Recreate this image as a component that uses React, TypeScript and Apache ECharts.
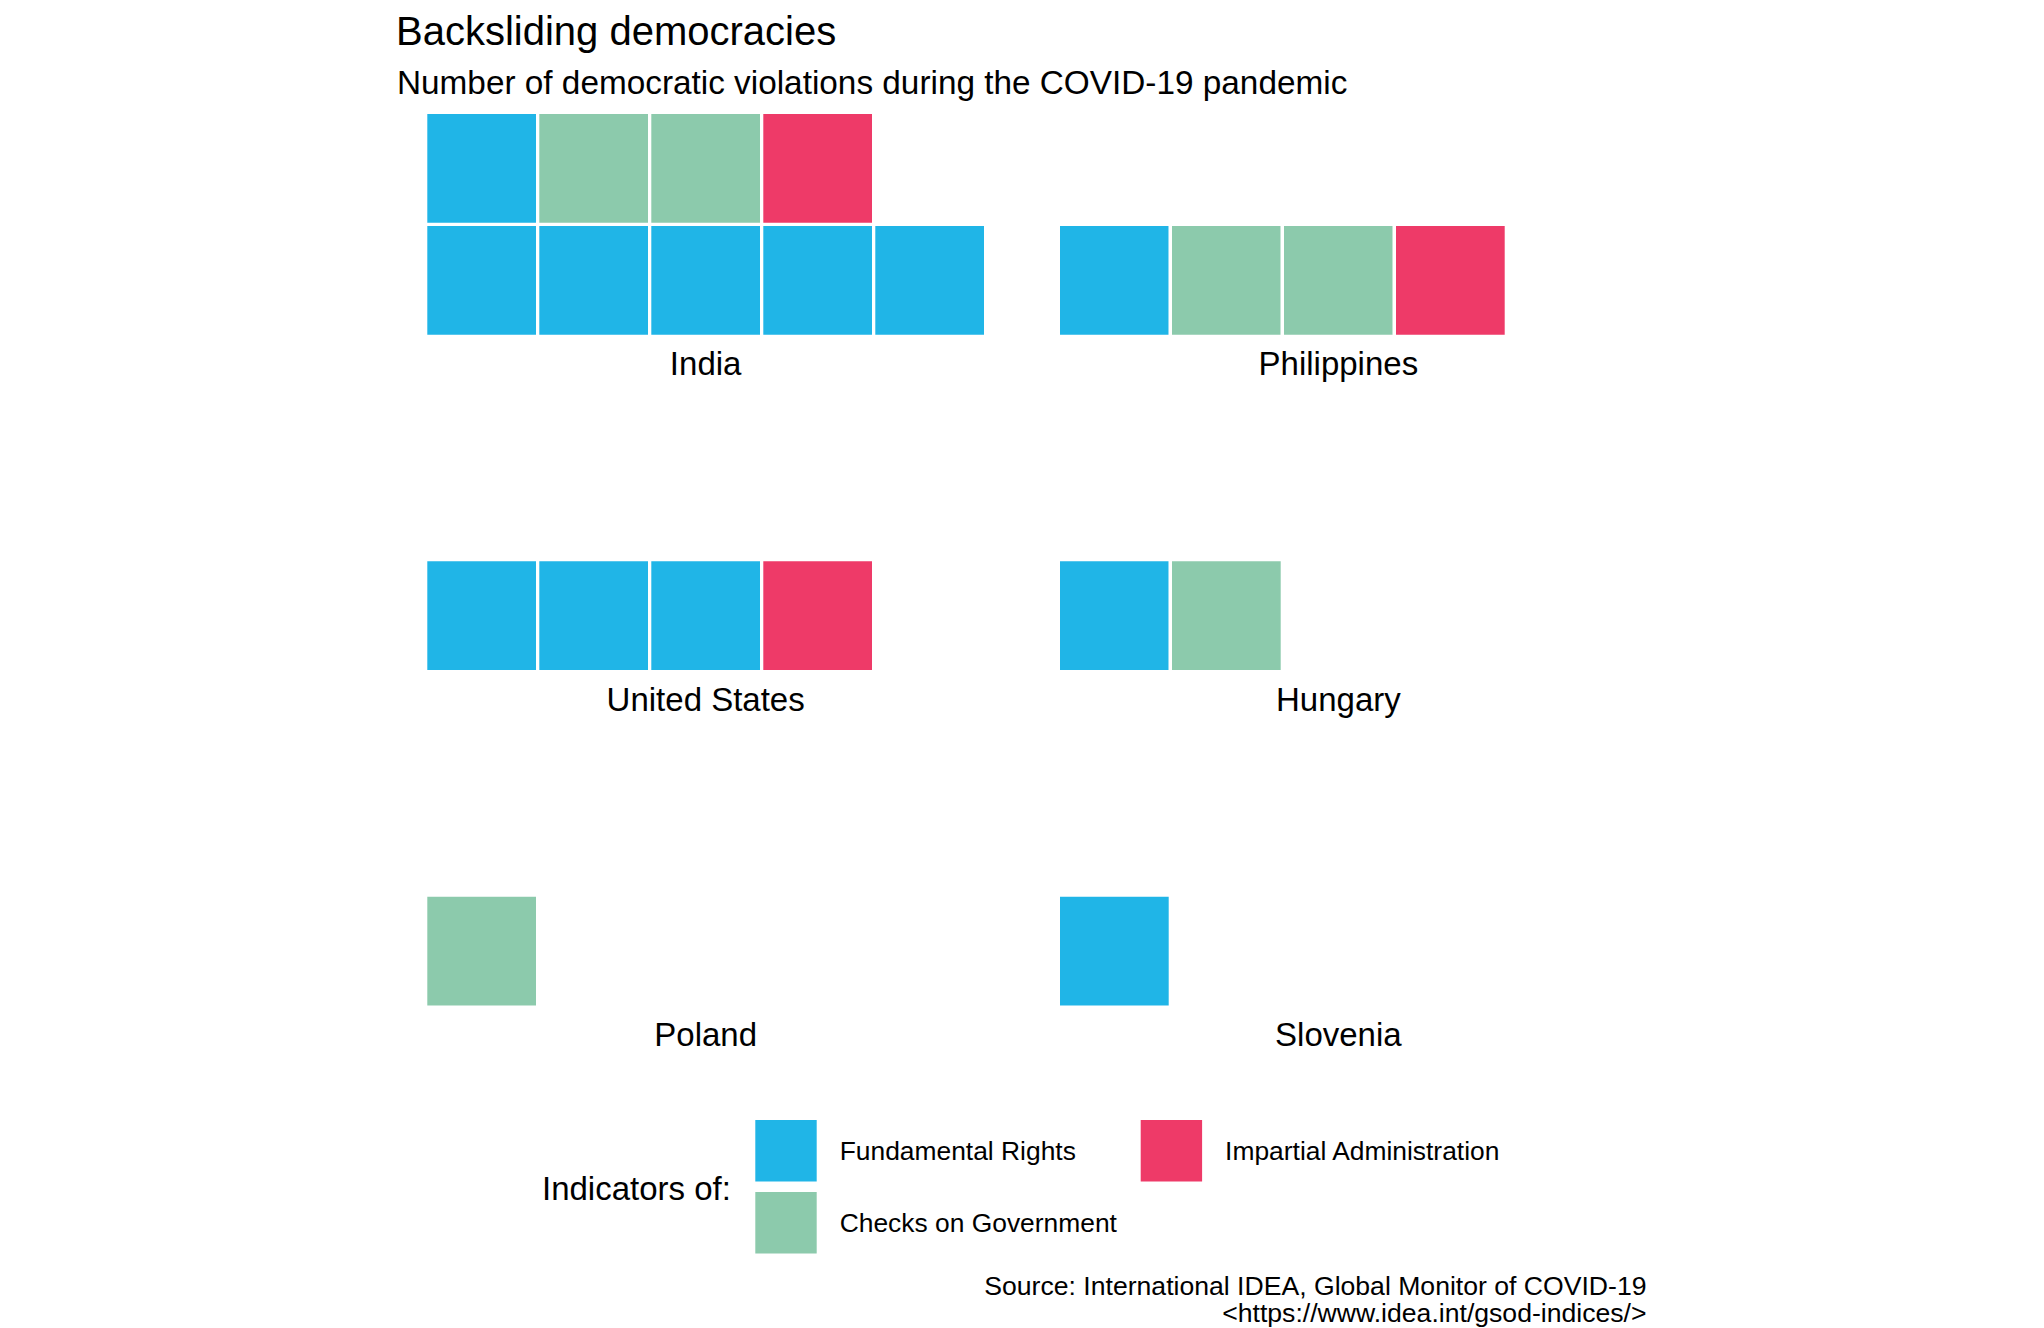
import React, { useEffect, useRef } from "react";
import * as echarts from "echarts";

const countries = ["India", "Philippines", "United States", "Hungary", "Poland", "Slovenia"];
const categories = ["Fundamental Rights", "Checks on Government", "Impartial Administration"];
const fundamentalRights = [6, 1, 3, 1, 0, 1];
const checksOnGovernment = [2, 2, 0, 1, 1, 0];
const impartialAdministration = [1, 1, 1, 0, 0, 0];
const colors = ["#20B5E7", "#8CCAAC", "#EE3A68"];
const titleText = "Backsliding democracies";
const subtitleText = "Number of democratic violations during the COVID-19 pandemic";
const legendTitle = "Indicators of:";
const captionLines = [
  "Source: International IDEA, Global Monitor of COVID-19",
  "<https://www.idea.int/gsod-indices/>",
];

const COLS = 5;
const ROWS = 2;
const FONT = "'Liberation Sans', Arial, Helvetica, sans-serif";

export default function App() {
  const ref = useRef<HTMLDivElement>(null);
  useEffect(() => {
    if (!ref.current) return;
    const chart = echarts.init(ref.current, null, { renderer: "svg" });

    const counts = [fundamentalRights, checksOnGovernment, impartialAdministration];
    const panelLeft = [425.65, 1058.35];
    const panelTop = [112.3, 447.7, 783.1];
    const cellSize = 112;

    const grids: any[] = [];
    const xAxes: any[] = [];
    const yAxes: any[] = [];
    const series: any[] = [];
    const graphics: any[] = [];

    countries.forEach((country, g) => {
      const col = g % 2;
      const row = Math.floor(g / 2);
      grids.push({
        left: panelLeft[col],
        top: panelTop[row],
        width: cellSize * COLS,
        height: cellSize * ROWS,
        containLabel: false,
      });
      xAxes.push({ type: "value", gridIndex: g, min: 0, max: COLS, show: false });
      yAxes.push({ type: "value", gridIndex: g, min: 0, max: ROWS, show: false });

      // build waffle cells in category order
      const cellsByCat: number[][][] = [[], [], []];
      let k = 0;
      categories.forEach((_, ci) => {
        for (let n = 0; n < counts[ci][g]; n++) {
          cellsByCat[ci].push([k % COLS, Math.floor(k / COLS)]);
          k++;
        }
      });
      categories.forEach((cat, ci) => {
        series.push({
          type: "custom",
          name: cat,
          xAxisIndex: g,
          yAxisIndex: g,
          itemStyle: { color: colors[ci] },
          data: cellsByCat[ci],
          renderItem: (params: any, api: any) => {
            const c = api.value(0);
            const r = api.value(1);
            const p0 = api.coord([c, r]);
            const p1 = api.coord([c + 1, r + 1]);
            return {
              type: "rect",
              shape: { x: p0[0], y: p1[1], width: p1[0] - p0[0], height: p0[1] - p1[1] },
              style: { fill: api.visual("color"), stroke: "#ffffff", lineWidth: 3.3 },
            };
          },
        });
      });

      graphics.push({
        type: "text",
        x: panelLeft[col] + (cellSize * COLS) / 2,
        y: panelTop[row] + cellSize * ROWS + 27.3,
        style: {
          text: country,
          fontSize: 33,
          fontFamily: FONT,
          fill: "#000",
          align: "center",
          verticalAlign: "middle",
        },
      });
    });

    graphics.push(
      {
        type: "text",
        x: 396,
        y: 31,
        style: { text: titleText, fontSize: 40, fontFamily: FONT, fill: "#000", align: "left", verticalAlign: "middle" },
      },
      {
        type: "text",
        x: 397,
        y: 82,
        style: { text: subtitleText, fontSize: 33.35, fontFamily: FONT, fill: "#000", align: "left", verticalAlign: "middle" },
      },
      {
        type: "text",
        x: 542,
        y: 1188,
        style: { text: legendTitle, fontSize: 33, fontFamily: FONT, fill: "#000", align: "left", verticalAlign: "middle" },
      },
      {
        type: "text",
        x: 1646.5,
        y: 1286,
        style: { text: captionLines[0], fontSize: 26.6, fontFamily: FONT, fill: "#000", align: "right", verticalAlign: "middle" },
      },
      {
        type: "text",
        x: 1646.5,
        y: 1312.5,
        style: { text: captionLines[1], fontSize: 26.6, fontFamily: FONT, fill: "#000", align: "right", verticalAlign: "middle" },
      }
    );

    const legendBase = {
      orient: "vertical",
      top: 1120,
      padding: 0,
      itemWidth: 61.4,
      itemHeight: 61.4,
      itemGap: 10.6,
      icon: "rect",
      selectedMode: false,
      itemStyle: { borderWidth: 0 },
      textStyle: { fontSize: 26.4, fontFamily: FONT, color: "#000", padding: [0, 0, 0, 18] },
    };

    chart.setOption({
      animation: false,
      backgroundColor: "#ffffff",
      grid: grids,
      xAxis: xAxes,
      yAxis: yAxes,
      series,
      legend: [
        { ...legendBase, left: 755.3, data: [categories[0], categories[1]] },
        { ...legendBase, left: 1140.7, data: [categories[2]] },
      ],
      graphic: graphics,
    });
    return () => chart.dispose();
  }, []);
  return (
    <div
      ref={ref}
      style={{ position: "fixed", left: 0, top: 0, width: 2044, height: 1328, background: "#fff" }}
    />
  );
}
